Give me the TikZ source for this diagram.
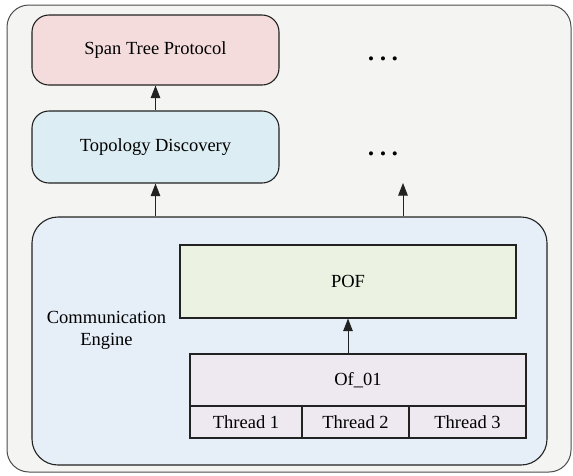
\documentclass[tikz,border=0pt]{standalone}
\usepackage{fontspec}
\setmainfont{Liberation Serif}
\usetikzlibrary{arrows.meta}
\definecolor{framefill}{HTML}{F4F4F2}
\definecolor{spanfill}{HTML}{F4DCDC}
\definecolor{topofill}{HTML}{DCEDF3}
\definecolor{commfill}{HTML}{E6EEF8}
\definecolor{poffill}{HTML}{EBF2E1}
\definecolor{offill}{HTML}{EEE8F0}
\definecolor{edge}{HTML}{222222}
\tikzset{
  box/.style={draw=edge, line width=1.1pt, inner sep=0pt, font=\fontsize{18.5}{22}\selectfont, align=center},
  roundbox/.style={box, rounded corners=17pt},
  arr/.style={draw=edge, line width=1pt, -{Triangle[width=9.5pt,length=12.5pt]}},
  dots/.style={inner sep=0pt, font=\fontsize{17}{18}\selectfont}
}
\begin{document}
\begin{tikzpicture}[x=1pt, y=-1pt]
\useasboundingbox (0,0) rectangle (573,475);
% outer frame
\node[draw=black!70, line width=1pt, fill=framefill, rounded corners=22pt,
      minimum width=564pt, minimum height=467pt, inner sep=0pt] (frame) at (289,238.5) {};
% protocol stack
\node[roundbox, fill=spanfill, minimum width=247pt, minimum height=70pt] (span) at (155.5,50) {Span Tree Protocol};
\node[roundbox, fill=topofill, minimum width=247pt, minimum height=72pt] (topo) at (155.5,147) {Topology Discovery};
% communication engine container
\node[box, fill=commfill, rounded corners=26pt, minimum width=515pt, minimum height=248pt] (comm) at (289.5,341) {};
\node[font=\fontsize{18.5}{22}\selectfont, align=center, inner sep=0pt] (commlabel) at (106.5,330) {Communication\\Engine};
\node[box, fill=poffill, minimum width=336pt, minimum height=73pt] (pof) at (348,281.5) {POF};
\node[box, fill=offill, minimum width=336pt, minimum height=52pt] (of) at (358,380) {Of\_01};
\node[box, fill=offill, minimum width=112pt, minimum height=32pt] (t1) at (246,422) {Thread 1};
\node[box, fill=offill, minimum width=107pt, minimum height=32pt] (t2) at (355.5,422) {Thread 2};
\node[box, fill=offill, minimum width=117pt, minimum height=32pt] (t3) at (467.5,422) {Thread 3};
% placeholders for further layers
\node[dots] (dotsA) at (383,61) {\textbullet\hspace{6pt}\textbullet\hspace{6pt}\textbullet};
\node[dots] (dotsB) at (383,156) {\textbullet\hspace{6pt}\textbullet\hspace{6pt}\textbullet};
\coordinate (upright) at (403,183);
% connectors
\draw[arr] (topo.north) -- (span.south);
\draw[arr] (topo |- comm.north) -- (topo.south);
\draw[arr] (upright |- comm.north) -- (upright);
\draw[arr] (pof |- of.north) -- (pof.south);
\end{tikzpicture}
\end{document}
